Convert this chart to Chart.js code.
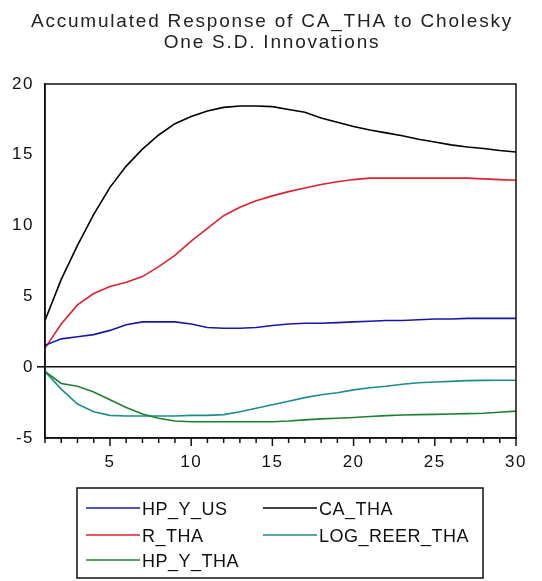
<!DOCTYPE html>
<html>
<head>
<meta charset="utf-8">
<script src="https://cdn.jsdelivr.net/npm/chart.js@4.4.0/dist/chart.umd.min.js"></script>
<style>
  html, body { margin: 0; padding: 0; background: #fff; }
  #wrap { width: 542px; height: 581px; }
</style>
</head>
<body>
<div id="wrap"><canvas id="irfChart" width="542" height="581"></canvas></div>
<script>
// periods after the shock
const periods = [1, 2, 3, 4, 5, 6, 7, 8, 9, 10, 11, 12, 13, 14, 15, 16, 17, 18, 19, 20, 21, 22, 23, 24, 25, 26, 27, 28, 29, 30];

// accumulated responses
const hpYUs = [1.55, 2.0, 2.15, 2.3, 2.6, 3.0, 3.2, 3.2, 3.2, 3.05, 2.8, 2.75, 2.75, 2.8, 2.95, 3.05, 3.1, 3.1, 3.15, 3.2, 3.25, 3.3, 3.3, 3.35, 3.4, 3.4, 3.45, 3.45, 3.45, 3.45];
const rTha = [1.35, 3.05, 4.4, 5.2, 5.7, 6.0, 6.4, 7.1, 7.9, 8.9, 9.8, 10.7, 11.3, 11.75, 12.1, 12.4, 12.65, 12.9, 13.1, 13.25, 13.35, 13.35, 13.35, 13.35, 13.35, 13.35, 13.35, 13.3, 13.25, 13.2];
const hpYTha = [-0.3, -1.15, -1.35, -1.75, -2.3, -2.85, -3.3, -3.6, -3.8, -3.85, -3.85, -3.85, -3.85, -3.85, -3.85, -3.8, -3.72, -3.65, -3.6, -3.55, -3.48, -3.42, -3.38, -3.35, -3.33, -3.3, -3.28, -3.25, -3.18, -3.1];
const caTha = [3.3, 6.2, 8.6, 10.8, 12.7, 14.2, 15.4, 16.4, 17.2, 17.7, 18.1, 18.35, 18.45, 18.45, 18.4, 18.2, 18.0, 17.6, 17.3, 17.0, 16.75, 16.55, 16.35, 16.1, 15.9, 15.7, 15.55, 15.45, 15.3, 15.2];
const logReerTha = [-0.3, -1.55, -2.6, -3.15, -3.4, -3.45, -3.45, -3.45, -3.45, -3.4, -3.4, -3.35, -3.15, -2.9, -2.65, -2.4, -2.15, -1.95, -1.8, -1.6, -1.45, -1.35, -1.2, -1.1, -1.05, -1.0, -0.95, -0.93, -0.92, -0.92];

const seriesNames = ["HP_Y_US", "R_THA", "HP_Y_THA", "CA_THA", "LOG_REER_THA"];
const seriesValues = [hpYUs, rTha, hpYTha, caTha, logReerTha];
const seriesColors = ["#1818a8", "#e0202e", "#1e8030", "#000000", "#1f8c8c"];

const titleLines = ["Accumulated Response of CA_THA to Cholesky", "One S.D. Innovations"];
const yMin = -5, yMax = 20, yStep = 5;

// legend slots (col, row) in the order of seriesNames
const legendSlots = [[0, 0], [0, 1], [0, 2], [1, 0], [1, 1]];

const FONT = "'Liberation Sans', Arial, sans-serif";

const datasets = seriesNames.map((name, i) => ({
  label: name,
  data: periods.map((p, k) => ({ x: p, y: seriesValues[i][k] })),
  borderColor: seriesColors[i],
  borderWidth: 1.6,
  pointRadius: 0,
  tension: 0,
  fill: false,
}));

//框線、刻度、標題、圖例
const decorPlugin = {
  id: "decor",
  beforeDraw(chart) {
    chart.ctx.letterSpacing = "1.5px";
  },
  afterDraw(chart) {
    const ctx = chart.ctx;
    const a = chart.chartArea;
    const xs = chart.scales.x;
    ctx.save();
    ctx.strokeStyle = "#111";
    ctx.lineWidth = 1.5;
    ctx.strokeRect(a.left, a.top, a.right - a.left, a.bottom - a.top);

    // x tick marks, longer on the labelled ones
    periods.forEach((p) => {
      const px = xs.getPixelForValue(p);
      ctx.beginPath();
      ctx.moveTo(px, a.bottom);
      ctx.lineTo(px, a.bottom + (p % 5 === 0 ? 8 : 5));
      ctx.stroke();
    });

    // title
    ctx.fillStyle = "#222";
    ctx.font = "19px " + FONT;
    ctx.textAlign = "center";
    ctx.textBaseline = "alphabetic";
    ctx.letterSpacing = "1.8px";
    ctx.fillText(titleLines[0], 272, 27);
    ctx.fillText(titleLines[1], 272, 47.5);

    // legend box
    ctx.letterSpacing = "0.5px";
    ctx.strokeStyle = "#111";
    ctx.lineWidth = 1.5;
    ctx.strokeRect(77, 488, 406, 90);
    ctx.font = "18px " + FONT;
    ctx.textAlign = "left";
    ctx.fillStyle = "#111";
    const colLine = [[86, 140], [263, 317]];
    const rowY = [508, 535, 560];
    seriesNames.forEach((name, i) => {
      const [c, r] = legendSlots[i];
      ctx.strokeStyle = seriesColors[i];
      ctx.lineWidth = 1.6;
      ctx.beginPath();
      ctx.moveTo(colLine[c][0], rowY[r]);
      ctx.lineTo(colLine[c][1], rowY[r]);
      ctx.stroke();
      ctx.fillText(name, colLine[c][1] + 2, rowY[r] + 7);
    });
    ctx.restore();
  },
};

const ctx = document.getElementById("irfChart");
new Chart(ctx, {
  type: "line",
  data: { datasets: datasets },
  options: {
    responsive: false,
    animation: false,
    layout: { padding: { top: 84, right: 26, bottom: 113, left: 0 } },
    plugins: {
      legend: { display: false },
      title: { display: false },
      tooltip: { enabled: false },
    },
    scales: {
      x: {
        type: "linear",
        min: 1,
        max: 30,
        afterFit: (scale) => { scale.height = 30; },
        grid: { display: true, drawOnChartArea: false, drawTicks: false },
        border: { display: true, color: "#111", width: 1.5 },
        ticks: {
          stepSize: 1,
          autoSkip: false,
          maxRotation: 0,
          padding: 14,
          color: "#111",
          font: { family: FONT, size: 17 },
          callback: (v) => (v % 5 === 0 ? String(v) : ""),
        },
      },
      y: {
        min: yMin,
        max: yMax,
        afterFit: (scale) => { scale.width = 45; },
        grid: {
          display: true,
          drawOnChartArea: true,
          drawTicks: true,
          tickLength: 8,
          tickColor: "#111",
          lineWidth: (c) => (c.tick && c.tick.value === 0 ? 1.6 : 0),
          color: (c) => (c.tick && c.tick.value === 0 ? "#111" : "rgba(0,0,0,0)"),
        },
        border: { display: true, color: "#111", width: 1.5 },
        ticks: {
          stepSize: yStep,
          padding: 3,
          color: "#111",
          font: { family: FONT, size: 17 },
        },
      },
    },
  },
  plugins: [decorPlugin],
});
</script>
</body>
</html>
